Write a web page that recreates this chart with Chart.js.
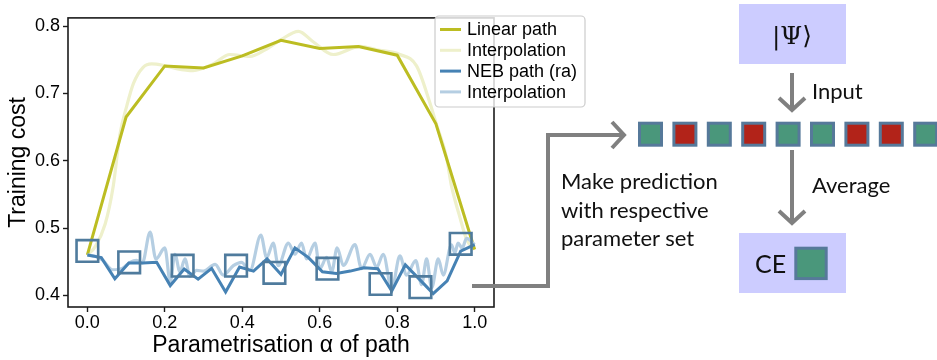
<!DOCTYPE html>
<html>
<head>
<meta charset="utf-8">
<script src="https://cdn.jsdelivr.net/npm/chart.js@4.4.1/dist/chart.umd.min.js"></script>
<style>
  html, body { margin: 0; padding: 0; background: #ffffff; }
  #wrap { position: relative; width: 937px; height: 360px; overflow: hidden; }
  #chart { position: absolute; left: 0; top: 0; }
  #diagram { position: absolute; left: 0; top: 0; }
  #diagram text { font-family: Lato, "Open Sans", sans-serif; fill: #111111; }
</style>
</head>
<body>
<div id="wrap">
  <canvas id="chart" width="937" height="360"></canvas>
  <svg id="diagram" width="937" height="360" xmlns="http://www.w3.org/2000/svg"></svg>
</div>
<script>
// ---- training cost along the two paths ----
const alphaLinear = [0.0, 0.1, 0.2, 0.3, 0.4, 0.5, 0.6, 0.7, 0.8, 0.9, 1.0];
const costLinear  = [0.460, 0.665, 0.741, 0.738, 0.756, 0.779, 0.767, 0.770, 0.757, 0.655, 0.468];

const alphaLinearInterp = [0.000, 0.020, 0.046, 0.067, 0.084, 0.102, 0.119, 0.144, 0.166, 0.195, 0.230,
                           0.273, 0.325, 0.368, 0.420, 0.459, 0.500, 0.545, 0.583, 0.635, 0.704, 0.747,
                           0.807, 0.850, 0.884, 0.902, 0.927, 0.940, 0.960, 0.980, 1.000];
const costLinearInterp  = [0.460, 0.472, 0.506, 0.563, 0.639, 0.682, 0.715, 0.739, 0.744, 0.742, 0.737,
                           0.734, 0.744, 0.758, 0.755, 0.765, 0.780, 0.7925, 0.777, 0.758, 0.770, 0.765,
                           0.758, 0.741, 0.687, 0.653, 0.606, 0.563, 0.520, 0.482, 0.468];

const alphaNeb = [0.000, 0.036, 0.071, 0.107, 0.143, 0.179, 0.214, 0.250, 0.286, 0.321, 0.357, 0.393,
                  0.429, 0.464, 0.500, 0.536, 0.571, 0.607, 0.643, 0.679, 0.714, 0.750, 0.786, 0.821,
                  0.857, 0.893, 0.929, 0.964, 1.000];
const costNeb  = [0.460, 0.456, 0.4245, 0.448, 0.448, 0.449, 0.4145, 0.439, 0.424, 0.440, 0.405, 0.442,
                  0.436, 0.454, 0.431, 0.4705, 0.456, 0.435, 0.4325, 0.436, 0.441, 0.4396, 0.4064, 0.4453,
                  0.424, 0.4026, 0.4216, 0.4658, 0.4752];

const alphaNebInterp = [0.000, 0.020, 0.040, 0.065, 0.090, 0.110, 0.127, 0.142, 0.162, 0.177, 0.200, 0.214,
                        0.226, 0.239, 0.252, 0.265, 0.282, 0.300, 0.330, 0.351, 0.377, 0.398, 0.420, 0.448,
                        0.463, 0.480, 0.493, 0.519, 0.536, 0.553, 0.566, 0.588, 0.600, 0.618, 0.631, 0.645,
                        0.661, 0.691, 0.708, 0.730, 0.747, 0.764, 0.786, 0.807, 0.824, 0.848, 0.863, 0.876,
                        0.889, 0.906, 0.919, 0.940, 0.949, 0.957, 0.968, 0.979, 1.000];
const costNebInterp  = [0.460, 0.458, 0.452, 0.438, 0.440, 0.449, 0.452, 0.448, 0.494, 0.454, 0.4705, 0.420,
                        0.461, 0.435, 0.454, 0.428, 0.437, 0.436, 0.446, 0.430, 0.444, 0.449, 0.437, 0.4895,
                        0.456, 0.4777, 0.444, 0.4777, 0.461, 0.4777, 0.454, 0.4777, 0.4396, 0.4563, 0.435, 0.4705,
                        0.4444, 0.4752, 0.4396, 0.461, 0.442, 0.461, 0.409, 0.4587, 0.430, 0.4516, 0.416, 0.454,
                        0.411, 0.454, 0.430, 0.475, 0.463, 0.4777, 0.470, 0.4847, 0.4752];

// parameter sets used for the prediction
const alphaMarked = [0.000, 0.108, 0.246, 0.384, 0.483, 0.620, 0.757, 0.860, 0.964];
const costMarked  = [0.466, 0.449, 0.444, 0.444, 0.4335, 0.4396, 0.4168, 0.4121, 0.4765];

const xTickValues = [0.0, 0.2, 0.4, 0.6, 0.8, 1.0];
const yTickValues = [0.4, 0.5, 0.6, 0.7, 0.8];

// qubit cells of the input state: g = green, r = red
const inputCells = ['g', 'r', 'g', 'r', 'g', 'g', 'r', 'r', 'g'];

const OLIVE = '#bcbd22';
const OLIVE_LIGHT = '#eef0cb';
const STEEL = '#4682b4';
const STEEL_LIGHT = '#b5cee2';
const MARK = '#4f7b9d';
const AXIS_FONT = '"Liberation Sans", Arial, Helvetica, sans-serif';

const pts = (xs, ys) => xs.map((x, i) => ({ x: x, y: ys[i] }));

const datasets = [
  { label: 'Linear path', data: pts(alphaLinear, costLinear), borderColor: OLIVE, borderWidth: 3, order: 3 },
  { label: 'Interpolation', data: pts(alphaLinearInterp, costLinearInterp), borderColor: OLIVE_LIGHT,
    borderWidth: 3.2, cubicInterpolationMode: 'monotone', order: 4 },
  { label: 'NEB path (ra)', data: pts(alphaNeb, costNeb), borderColor: STEEL, borderWidth: 3, order: 1 },
  { label: 'Interpolation', data: pts(alphaNebInterp, costNebInterp), borderColor: STEEL_LIGHT,
    borderWidth: 3.2, cubicInterpolationMode: 'monotone', order: 2 },
  { label: '', data: pts(alphaMarked, costMarked), showLine: false, pointStyle: 'rect',
    pointRadius: 15.3, pointBorderWidth: 2.6, pointBorderColor: MARK,
    pointBackgroundColor: 'rgba(0,0,0,0)', order: 0, clip: false }
];

// box round the plotting area, drawn over the curves
const frame = {
  id: 'frame',
  afterDatasetsDraw(chart) {
    const { ctx, chartArea: a } = chart;
    ctx.save();
    ctx.strokeStyle = '#1b1b1b';
    ctx.lineWidth = 1.6;
    ctx.strokeRect(a.left, a.top, a.right - a.left, a.bottom - a.top);
    ctx.restore();
  }
};

// legend box in the upper right corner
const legendBox = {
  id: 'legendBox',
  afterDraw(chart) {
    const { ctx } = chart;
    const x0 = 435, y0 = 16, w = 150, h = 91, r = 4;
    ctx.save();
    ctx.beginPath();
    ctx.roundRect(x0, y0, w, h, r);
    ctx.fillStyle = 'rgba(255,255,255,0.8)';
    ctx.fill();
    ctx.strokeStyle = '#cccccc';
    ctx.lineWidth = 1.2;
    ctx.stroke();
    ctx.font = '18px ' + AXIS_FONT;
    ctx.textBaseline = 'middle';
    ctx.fillStyle = '#000000';
    const rows = chart.data.datasets.filter(d => d.label);
    rows.forEach((d, i) => {
      const y = 29.5 + i * 20.8;
      ctx.beginPath();
      ctx.moveTo(440, y);
      ctx.lineTo(461, y);
      ctx.strokeStyle = d.borderColor;
      ctx.lineWidth = 3;
      ctx.stroke();
      ctx.fillText(d.label, 467, y + 1);
    });
    ctx.restore();
  }
};

const tickFont = { family: AXIS_FONT, size: 18 };
const titleFont = { family: AXIS_FONT, size: 23 };
const gridOpts = { drawOnChartArea: false, drawTicks: true, tickLength: 5, tickWidth: 1.4, tickColor: '#1b1b1b' };

new Chart(document.getElementById('chart'), {
  type: 'line',
  data: { datasets: datasets },
  options: {
    responsive: false,
    animation: false,
    events: [],
    layout: { padding: { top: 5, right: 443, left: 0, bottom: 0 } },
    elements: { point: { radius: 0 }, line: { tension: 0 } },
    plugins: { legend: { display: false }, tooltip: { enabled: false } },
    scales: {
      x: {
        type: 'linear', min: -0.05, max: 1.05,
        afterBuildTicks: s => { s.ticks = xTickValues.map(v => ({ value: v })); },
        afterFit: s => { s.height = 53; s.paddingLeft = 0; s.paddingRight = 0; },
        ticks: { autoSkip: false, maxRotation: 0, padding: 0, color: '#000', font: tickFont,
                 callback: v => v.toFixed(1) },
        grid: gridOpts,
        border: { display: false },
        title: { display: true, text: 'Parametrisation \u03b1 of path', color: '#000', font: titleFont,
                 padding: { top: 0, bottom: 1 } }
      },
      y: {
        type: 'linear', min: 0.3826, max: 0.8124,
        afterBuildTicks: s => { s.ticks = yTickValues.map(v => ({ value: v })); },
        afterFit: s => { s.width = 68; s.paddingTop = 0; s.paddingBottom = 0; },
        ticks: { autoSkip: false, padding: 3, color: '#000', font: tickFont,
                 callback: v => v.toFixed(1) },
        grid: gridOpts,
        border: { display: false },
        title: { display: true, text: 'Training cost', color: '#000', font: titleFont,
                 padding: { top: 5, bottom: 0 } }
      }
    }
  },
  plugins: [frame, legendBox]
});

// ---- workflow diagram to the right of the plot ----
const svg = document.getElementById('diagram');
const NS = 'http://www.w3.org/2000/svg';
function el(tag, attrs, text) {
  const e = document.createElementNS(NS, tag);
  for (const k in attrs) e.setAttribute(k, attrs[k]);
  if (text !== undefined) e.textContent = text;
  svg.appendChild(e);
  return e;
}
const GREY = '#808080';
const CELL = { g: '#4a977b', r: '#b22319' };
const CELL_EDGE = '#56799a';

// state box
el('rect', { x: 739, y: 4, width: 107, height: 60, fill: '#ccccff' });
el('text', { x: 792, y: 44, 'text-anchor': 'middle', 'font-size': 25,
             style: 'font-family:"DejaVu Serif","Liberation Serif",serif' }, '|\u03a8\u27e9');

// input arrow
el('line', { x1: 792, y1: 73, x2: 792, y2: 109, stroke: GREY, 'stroke-width': 4 });
el('polyline', { points: '779,98 792,110 805,98', fill: 'none', stroke: GREY, 'stroke-width': 4 });
el('text', { x: 812, y: 99, 'font-size': 22 }, 'Input');

// row of qubit cells
inputCells.forEach((c, i) => {
  el('rect', { x: 639.5 + i * 34.4, y: 123.2, width: 22, height: 22, fill: CELL[c],
               stroke: CELL_EDGE, 'stroke-width': 3 });
});

// arrow from the marked parameter sets to the cells
el('polyline', { points: '472,286 548,286 548,135 622,135', fill: 'none', stroke: GREY,
                 'stroke-width': 4, 'stroke-linejoin': 'miter' });
el('polyline', { points: '612,122 624,135 612,148', fill: 'none', stroke: GREY, 'stroke-width': 4 });

['Make prediction', 'with respective', 'parameter set'].forEach((t, i) => {
  el('text', { x: 561, y: 189 + i * 28.5, 'font-size': 22 }, t);
});

// averaging arrow
el('line', { x1: 792, y1: 150, x2: 792, y2: 222, stroke: GREY, 'stroke-width': 4 });
el('polyline', { points: '779,211 792,223 805,211', fill: 'none', stroke: GREY, 'stroke-width': 4 });
el('text', { x: 812, y: 193, 'font-size': 22 }, 'Average');

// result box
el('rect', { x: 739, y: 233, width: 107, height: 60, fill: '#ccccff' });
el('text', { x: 755, y: 273, 'font-size': 25 }, 'CE');
el('rect', { x: 795.8, y: 248.2, width: 30.4, height: 30.4, fill: CELL.g, stroke: CELL_EDGE, 'stroke-width': 3 });
</script>
</body>
</html>
